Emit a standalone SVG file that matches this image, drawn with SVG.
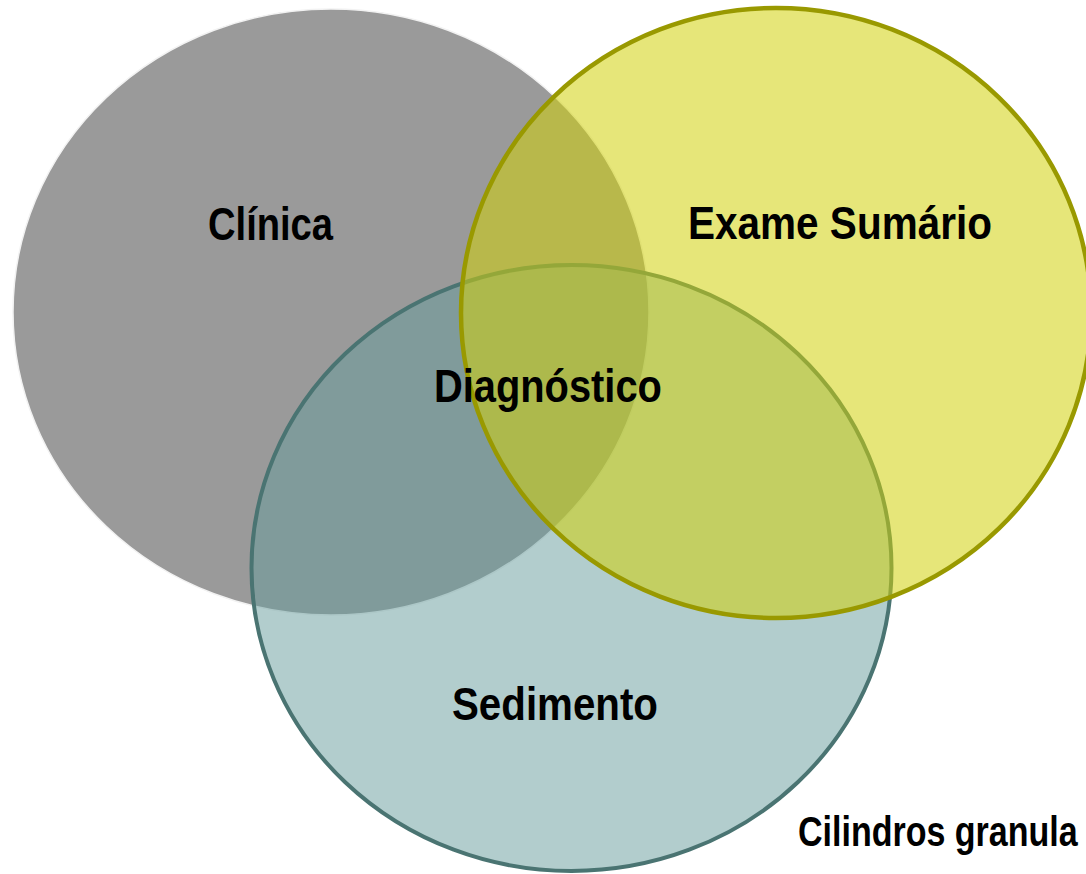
<svg xmlns="http://www.w3.org/2000/svg" width="1086" height="874" viewBox="0 0 1086 874">
<style>
  .lbl { font-family: "Liberation Sans", Arial, sans-serif; font-weight: bold; font-size: 46px; fill: #000; }
  .small { font-size: 42px; }
</style>
<rect x="0" y="0" width="1086" height="874" fill="#ffffff"/>
<g id="clinica">
  <ellipse cx="331" cy="312" rx="318" ry="303" fill="#9a9a9a" stroke="#f2f2f2" stroke-width="1.5"/>
</g>
<g id="sedimento">
  <ellipse cx="571.5" cy="568" rx="320" ry="303" fill="#669c9c" fill-opacity="0.5" stroke="#4a7472" stroke-width="4"/>
</g>
<g id="exame-sumario">
  <ellipse cx="776" cy="313" rx="315" ry="305" fill="#d1d10b" fill-opacity="0.55" stroke="#999900" stroke-width="4.5"/>
</g>
<g id="labels">
  <text id="t-clinica" class="lbl" transform="translate(208,240) scale(0.829,1)">Clínica</text>
  <text id="t-exame" class="lbl" transform="translate(688,239) scale(0.881,1)">Exame Sumário</text>
  <text id="t-diag" class="lbl" transform="translate(434,402) scale(0.866,1)">Diagnóstico</text>
  <text id="t-sed" class="lbl" transform="translate(452,720) scale(0.876,1)">Sedimento</text>
  <text id="t-cil" class="lbl small" transform="translate(798,846) scale(0.81,1)">Cilindros granula</text>
</g>
</svg>
